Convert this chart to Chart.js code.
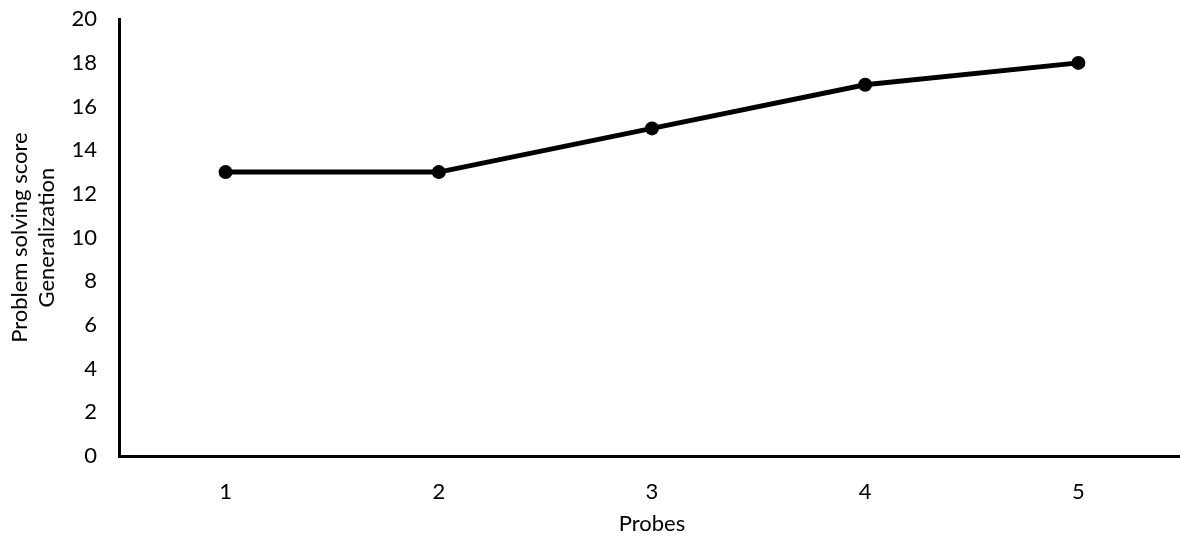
<!DOCTYPE html>
<html>
<head>
<meta charset="utf-8">
<script src="https://cdn.jsdelivr.net/npm/chart.js@4"></script>
<style>
  html, body { margin: 0; padding: 0; background: #fff; overflow: hidden; }
  /* chart.js keeps extra room above the y axis, so lift the canvas a bit */
  #chart { display: block; margin-top: -16px; }
</style>
</head>
<body>
<canvas id="chart" width="1192" height="558"></canvas>
<script>
const probes = ["1", "2", "3", "4", "5"];
const scores = [13, 13, 15, 17, 18];
const yTitle = ["Problem solving score", "Generalization"];
const xTitle = "Probes";

const font = { family: "Lato, 'Liberation Sans', sans-serif", size: 22 };

new Chart(document.getElementById("chart").getContext("2d"), {
  type: "line",
  data: {
    labels: probes,
    datasets: [
      {
        data: scores,
        borderColor: "#000",
        backgroundColor: "#000",
        borderWidth: 5,
        pointRadius: 7,
        pointBackgroundColor: "#000",
        pointBorderWidth: 0,
        tension: 0
      }
    ]
  },
  options: {
    responsive: false,
    animation: false,
    devicePixelRatio: 1,
    layout: { padding: 0 },
    plugins: {
      legend: { display: false },
      tooltip: { enabled: false }
    },
    scales: {
      x: {
        offset: true,
        grid: { display: false, drawTicks: false },
        border: { color: "#000", width: 3 },
        ticks: { color: "#000", font: font, padding: 23 },
        title: { display: true, text: xTitle, color: "#000", font: font, padding: { top: 4, bottom: 5 } },
        afterFit: (s) => { s.height = 86; }
      },
      y: {
        min: 0,
        max: 20,
        grid: { display: false, drawTicks: false },
        border: { color: "#000", width: 3 },
        ticks: { stepSize: 2, color: "#000", font: font, padding: 22 },
        title: { display: true, text: yTitle, color: "#000", font: font, padding: { top: 7, bottom: 4 } },
        afterFit: (s) => { s.width = 119; }
      }
    }
  }
});
</script>
</body>
</html>
